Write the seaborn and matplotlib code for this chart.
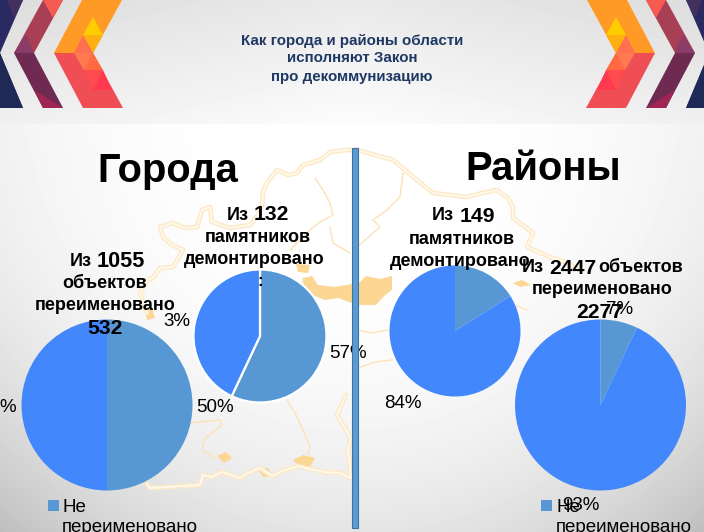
import numpy as np
import matplotlib
matplotlib.use("Agg")
import matplotlib.pyplot as plt
from matplotlib.patches import Polygon, Rectangle
import seaborn as sns

sns.set_theme(style="white")
plt.rcParams["font.family"] = ["Liberation Sans", "DejaVu Sans"]

W, H = 704, 532

# pie data, clockwise from the top
city_objects = [50, 50]
city_monuments = [57, 43]
district_monuments = [16, 84]
district_objects = [7, 93]
pie_colors = sns.color_palette(["#5797d3", "#4287fb"])

# decoration, pixel coordinates
coast_top = [(147, 313), (140, 293), (147, 280), (153, 278), (160, 268), (173, 267), (183, 250), (172, 245),
             (163, 237), (160, 227), (173, 223), (185, 228), (197, 227), (202, 210), (210, 207), (212, 222),
             (230, 228), (250, 225), (258, 215), (262, 205), (263, 192), (267, 183), (277, 170), (288, 175),
             (297, 173), (303, 165), (310, 163), (320, 160), (330, 152), (347, 150), (358, 150), (375, 155),
             (393, 160), (405, 170), (417, 180), (433, 193), (450, 195), (467, 197), (482, 193), (497, 190),
             (508, 198), (513, 207), (513, 218), (533, 233), (527, 247), (550, 257), (565, 262), (580, 270)]
coast_bottom = [(147, 484), (150, 488), (200, 485), (203, 475), (212, 477), (222, 472), (240, 478), (248, 473),
                (260, 468), (272, 476), (285, 470), (298, 466), (310, 469), (325, 472), (340, 473), (351, 478),
                (348, 450), (351, 438), (337, 415), (346, 395)]
borders = [
    [(315, 178), (323, 190), (330, 203), (333, 215), (320, 222), (310, 230), (290, 250)],
    [(330, 227), (333, 243), (350, 253)],
    [(403, 173), (400, 197), (387, 210), (373, 220), (380, 227), (357, 247)],
    [(190, 423), (220, 420), (222, 425), (205, 438), (202, 450), (215, 458)],
    [(287, 400), (296, 415), (303, 430), (310, 447), (308, 455)],
    [(250, 300), (275, 290), (300, 310), (303, 278)],
    [(450, 290), (470, 300), (500, 300), (527, 310)],
    [(358, 368), (375, 362), (392, 360)],
    [(358, 330), (372, 333), (388, 330)],
]
blobs = [
    [(303, 278), (312, 276), (318, 285), (335, 287), (352, 284), (352, 303), (338, 298), (325, 300), (305, 292)],
    [(357, 285), (366, 276), (380, 279), (392, 276), (392, 290), (384, 296), (376, 305), (357, 305)],
    [(296, 264), (310, 265), (308, 273), (298, 272)],
    [(513, 283), (522, 280), (531, 285), (520, 287)],
    [(217, 456), (226, 452), (232, 458), (224, 463)],
    [(257, 468), (268, 468), (273, 476), (263, 477)],
    [(293, 460), (303, 455), (315, 458), (310, 467), (298, 465)],
    [(145, 310), (152, 308), (155, 318), (147, 320)],
]

# (polygon, colour)
chevrons = [
    ([(-30, 0), (23, 0), (0, 53), (23, 108), (-30, 108)], "#2a2a62"),
    ([(0, 53), (23, 108), (-5, 108)], "#1e2a55"),
    ([(7, 0), (23, 0), (14, 18)], "#43305f"),
    ([(43, 0), (63, 0), (34, 53), (14, 53)], "#a83f55"),
    ([(43, 0), (63, 0), (53, 18)], "#f65a50"),
    ([(14, 53), (34, 53), (26, 35)], "#8a3c68"),
    ([(14, 53), (34, 53), (63, 108), (43, 108)], "#6e2a50"),
    ([(34, 90), (63, 108), (43, 108)], "#a02555"),
    ([(82, 0), (122, 0), (93, 53), (54, 53)], "#ff9a26"),
    ([(54, 53), (93, 53), (123, 108), (83, 108)], "#f04e55"),
    ([(93, 17), (83, 35), (103, 35)], "#ffcc00"),
    ([(83, 35), (103, 35), (93, 53)], "#ffb010"),
    ([(83, 35), (74, 53), (93, 53)], "#ff7050"),
    ([(74, 53), (93, 53), (84, 70)], "#ff7a50"),
    ([(84, 70), (93, 53), (103, 70)], "#ff6a40"),
    ([(84, 70), (103, 70), (93, 90)], "#ff4a50"),
    ([(103, 70), (93, 90), (112, 90)], "#ff3a50"),
]

fig = plt.figure(figsize=(W / 100, H / 100), dpi=100)


def px_axes(zorder):
    ax = fig.add_axes([0, 0, 1, 1], zorder=zorder)
    ax.set_xlim(0, W)
    ax.set_ylim(H, 0)
    ax.axis("off")
    return ax


# background
bg = px_axes(0)
yy, xx = np.mgrid[0:H, 0:W]
x_weight = 0.35 + 0.25 * np.clip(yy - 124, 0, None) / 408
dist = x_weight * ((xx - 352) / 352) ** 2 + 0.6 * (np.clip(yy - 180, 0, None) / 350) ** 2
shade = 1 - 0.2 * dist ** 1.3
header = 0.865 + 0.075 * (yy / 124) + 0.05 * (1 - np.abs(xx - 352) / 352)
shade = np.where(yy < 124, header, shade)
bg.imshow(shade, cmap="gray", vmin=0, vmax=1, extent=(0, W, H, 0), aspect="auto")

for line in [coast_top, coast_bottom]:
    x, y = zip(*line)
    bg.plot(x, y, color="#fde9c6", lw=3.4, solid_joinstyle="round")
    bg.plot(x, y, color="#fffaf0", lw=1.3, solid_joinstyle="round")
for line in borders:
    x, y = zip(*line)
    bg.plot(x, y, color="#fce2b6", lw=1.0)
for blob in blobs:
    bg.add_patch(Polygon(blob, color="#fbd793", lw=0))

for pts, col in chevrons:
    bg.add_patch(Polygon(pts, color=col, lw=0))
    bg.add_patch(Polygon([(709 - px, py) for px, py in pts], color=col, lw=0))
bg.set_xlim(0, W)
bg.set_ylim(H, 0)


def draw_pie(values, cx, cy, r, edge=None):
    ax = fig.add_axes([(cx - r) / W, 1 - (cy + r) / H, 2 * r / W, 2 * r / H], zorder=1)
    ax.pie(values, colors=pie_colors, startangle=90, counterclock=False, radius=1,
           wedgeprops={"edgecolor": edge, "linewidth": 1.6 if edge else 0})
    ax.set_xlim(-1, 1)
    ax.set_ylim(-1, 1)


draw_pie(city_objects, 107, 405, 85.5)
draw_pie(city_monuments, 260, 336, 66.5, edge="white")
draw_pie(district_monuments, 455, 331, 65.5)
draw_pie(district_objects, 600.5, 405, 85.5)

# text layer
top = px_axes(2)
top.patch.set_alpha(0)


def put(x, y, s, size=13.5, weight="normal", ha="center", color="black"):
    top.text(x, y, s, fontsize=size, fontweight=weight, ha=ha, va="center_baseline", color=color)


for y, s in zip([39, 57, 75], ["Как города и районы области", "исполняют Закон", "про декоммунизацию"]):
    put(352, y, s, size=10.9, weight="bold", color="#1f3864")

put(168, 167, "Города", size=28.8, weight="bold")
put(543, 165, "Районы", size=28.8, weight="bold")

# card headings: small word + bigger number
put(70, 259, "Из", size=13, weight="bold", ha="left")
put(97, 259, "1055", size=15.6, weight="bold", ha="left")
put(105, 282, "объектов", size=13, weight="bold")
put(105, 303, "переименовано", size=13, weight="bold")
put(105, 326, "532", size=15.2, weight="bold")

put(227, 213, "Из", size=13, weight="bold", ha="left")
put(254, 213, "132", size=15.2, weight="bold", ha="left")
put(258, 235, "памятников", size=13, weight="bold")
put(254, 257, "демонтировано", size=13, weight="bold")
put(260, 280, ":", size=12, weight="bold")

put(432, 214, "Из", size=13, weight="bold", ha="left")
put(460, 214, "149", size=15.2, weight="bold", ha="left")
put(462, 237, "памятников", size=13, weight="bold")
put(460, 260, "демонтировано", size=13, weight="bold")

put(522, 266, "Из", size=13, weight="bold", ha="left")
put(549, 266, "2447", size=15.2, weight="bold", ha="left")
put(598, 266, "объектов", size=13, weight="bold", ha="left")
put(602, 288, "переименовано", size=13, weight="bold")
put(600, 311, "2277", size=15.2, weight="bold")

# percent labels
put(17, 405, f"{city_objects[0]}%", ha="right")
put(215, 405, f"{city_objects[1]}%")
put(329, 351, f"{city_monuments[0]}%", ha="left")
put(177, 320, "3%")
put(403, 402, f"{district_monuments[1]}%")
put(620, 308, f"{district_objects[0]}%")
put(581, 503, f"{district_objects[1]}%")

# legends (cut by the slide edge)
for sq, tx in [(48, 62), (541, 556)]:
    top.add_patch(Rectangle((sq, 500), 11, 11, color=pie_colors[0], lw=0))
    put(tx, 506, "Не", ha="left", size=13.5)
    put(tx, 526, "переименовано", ha="left", size=13.5)

# divider
top.add_patch(Rectangle((352, 148), 6, 380, facecolor="#5b9bd5", edgecolor="#41719c", lw=0.8, zorder=5))

fig.savefig("out.png", dpi=100)
